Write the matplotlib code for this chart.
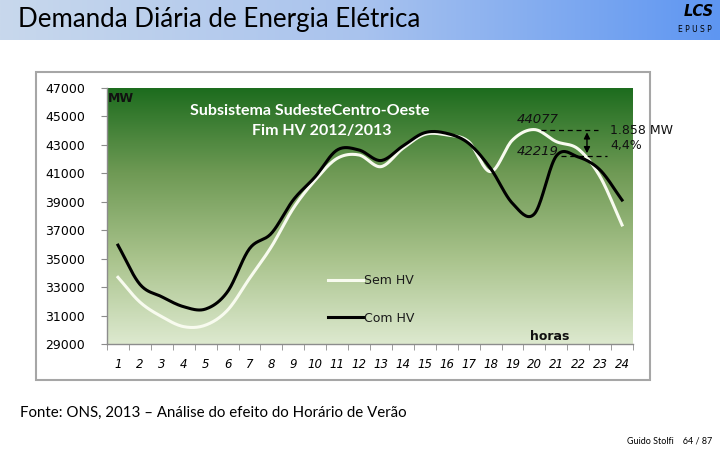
import numpy as np
import matplotlib
matplotlib.use('Agg')
import matplotlib.pyplot as plt
from matplotlib.colors import LinearSegmentedColormap
from matplotlib.patches import Rectangle

# --- dados (MW por hora) ---
horas = list(range(1, 25))
sem_hv = [33690, 31950, 30920, 30220, 30330, 31380, 33610, 35840, 38540, 40530, 42050, 42290,
          41470, 42760, 43740, 43700, 43230, 41120, 43340, 44077, 43230, 42710, 40760, 37370]
com_hv = [35950, 33200, 32320, 31620, 31460, 32680, 35700, 36780, 39130, 40760, 42640, 42640,
          41900, 42920, 43860, 43810, 43110, 41350, 38890, 38150, 42219, 42150, 41230, 39120]
pico_sem = 44077
pico_com = 42219
y_ticks = list(range(29000, 47001, 2000))


def suaviza(x, y, n=20):
    # curva suavizada tipo Excel (Catmull-Rom)
    x = np.asarray(x, float)
    y = np.asarray(y, float)
    px = np.concatenate([[2 * x[0] - x[1]], x, [2 * x[-1] - x[-2]]])
    py = np.concatenate([[2 * y[0] - y[1]], y, [2 * y[-1] - y[-2]]])
    xs, ys = [], []
    t = np.linspace(0, 1, n, endpoint=False)
    for i in range(1, len(px) - 2):
        for arr, out in ((px, xs), (py, ys)):
            p0, p1, p2, p3 = arr[i - 1], arr[i], arr[i + 1], arr[i + 2]
            out.extend(0.5 * ((2 * p1) + (-p0 + p2) * t + (2 * p0 - 5 * p1 + 4 * p2 - p3) * t ** 2
                              + (-p0 + 3 * p1 - 3 * p2 + p3) * t ** 3))
    xs.append(x[-1])
    ys.append(y[-1])
    return np.array(xs), np.array(ys)


W, H = 720, 450
fig = plt.figure(figsize=(7.2, 4.5), dpi=100)
fig.patch.set_facecolor('white')


def fx(p):
    return p / W


def fy(p):
    return 1 - p / H


# barra de título com gradiente
bar = fig.add_axes([0, fy(40), 1, 40 / H])
cm_bar = LinearSegmentedColormap.from_list('bar', ['#c8d8ec', '#a9c3ee', '#5e96f2'])
bar.imshow(np.linspace(0, 1, 256)[None, :], cmap=cm_bar, aspect='auto', extent=[0, 1, 0, 1])
bar.axis('off')
fig.text(fx(18), fy(20), 'Demanda Diária de Energia Elétrica', fontsize=18.6,
         family='Lato', va='center', ha='left', color='black')
fig.text(fx(714), fy(12), 'LCS', fontsize=10.5, fontweight='bold', fontstyle='italic',
         va='center', ha='right', color='black')
fig.text(fx(712), fy(30), 'E P U S P', fontsize=5.5, va='center', ha='right', color='black')

# moldura do gráfico
fig.patches.append(Rectangle((fx(36), fy(380)), fx(650) - fx(36), fy(72) - fy(380),
                             transform=fig.transFigure, fill=False, edgecolor='#a6a6a6',
                             linewidth=1.5, zorder=0))

AX_L, AX_R, AX_T, AX_B = 107, 633, 88, 344
ax = fig.add_axes([fx(AX_L), fy(AX_B), fx(AX_R) - fx(AX_L), fy(AX_T) - fy(AX_B)])
cm_green = LinearSegmentedColormap.from_list('g', ['#dde9cf', '#a9c38c', '#6f9a55', '#1d6c1e'])
ax.imshow(np.linspace(0, 1, 256)[::-1, None], cmap=cm_green, aspect='auto',
          extent=[0.5, 24.5, 29000, 47000], zorder=0)

xs, ys = suaviza(horas, sem_hv)
l1, = ax.plot(xs, ys, color='#f8fbef', linewidth=2.2, label='Sem HV', zorder=3)
xs, ys = suaviza(horas, com_hv)
l2, = ax.plot(xs, ys, color='black', linewidth=2.2, label='Com HV', zorder=4)

ax.set_xlim(0.5, 24.5)
ax.set_ylim(29000, 47000)
ax.set_yticks(y_ticks)
ax.set_yticklabels([str(v) for v in y_ticks], fontsize=9)
ax.set_xticks(horas)
ax.set_xticklabels([str(h) for h in horas], fontsize=8.5, fontstyle='italic')
ax.set_xticks(np.arange(0.5, 25, 1), minor=True)
ax.tick_params(axis='x', which='major', length=0, pad=10)
ax.tick_params(axis='x', which='minor', length=4, color='#8c8c8c', direction='out')
ax.tick_params(axis='y', length=4, color='#8c8c8c', pad=12)
for s in ('top', 'right'):
    ax.spines[s].set_visible(False)
for s in ('left', 'bottom'):
    ax.spines[s].set_color('#8c8c8c')
    ax.spines[s].set_linewidth(1)

leg = ax.legend(handles=[l1, l2], loc='upper left',
                bbox_to_anchor=((317 - AX_L) / (AX_R - AX_L), 1 - (263 - AX_T) / (AX_B - AX_T)),
                frameon=False, fontsize=9, handlelength=2.8, handletextpad=0.1, labelspacing=1.95)
for t in leg.get_texts():
    t.set_color('#1a1a1a')

# textos internos
fig.text(fx(108), fy(98), 'MW', fontsize=9, fontweight='bold', va='center', ha='left', color='#111111')
fig.text(fx(310), fy(111), 'Subsistema SudesteCentro-Oeste', fontsize=11.5, fontweight='bold',
         family='Lato', va='center', ha='center', color='white')
fig.text(fx(322), fy(131), 'Fim HV 2012/2013', fontsize=11.5, fontweight='bold',
         family='Lato', va='center', ha='center', color='white')
fig.text(fx(550), fy(336), 'horas', fontsize=9, fontweight='bold', va='center', ha='center', color='#111111')

# anotações do pico
ax.text(19.2, 44800, str(pico_sem), fontsize=9.5, fontstyle='italic', va='center', ha='left', color='#111111')
ax.text(19.2, 42550, str(pico_com), fontsize=9.5, fontstyle='italic', va='center', ha='left', color='#111111')
ax.plot([20.3, 22.9], [pico_sem, pico_sem], color='black', linestyle=(0, (4, 3)), linewidth=0.9, zorder=5)
ax.plot([21.2, 23.3], [pico_com, pico_com], color='black', linestyle=(0, (4, 3)), linewidth=0.9, zorder=5)
ax.annotate('', xy=(22.4, pico_sem), xytext=(22.4, pico_com),
            arrowprops=dict(arrowstyle='<|-|>', color='black', lw=1, mutation_scale=9), zorder=6)
fig.text(fx(610), fy(131), '1.858 MW', fontsize=9, va='center', ha='left', color='#111111')
fig.text(fx(610), fy(146), '4,4%', fontsize=9, va='center', ha='left', color='#111111')

# rodapé
fig.text(fx(20), fy(413), 'Fonte: ONS, 2013 – Análise do efeito do Horário de Verão', fontsize=10.8,
         family='Lato', va='center', ha='left', color='black')
fig.text(fx(712), fy(441), 'Guido Stolfi    64 / 87', fontsize=6.5, family='Lato',
         va='center', ha='right', color='black')

fig.savefig('out.png', dpi=100)
